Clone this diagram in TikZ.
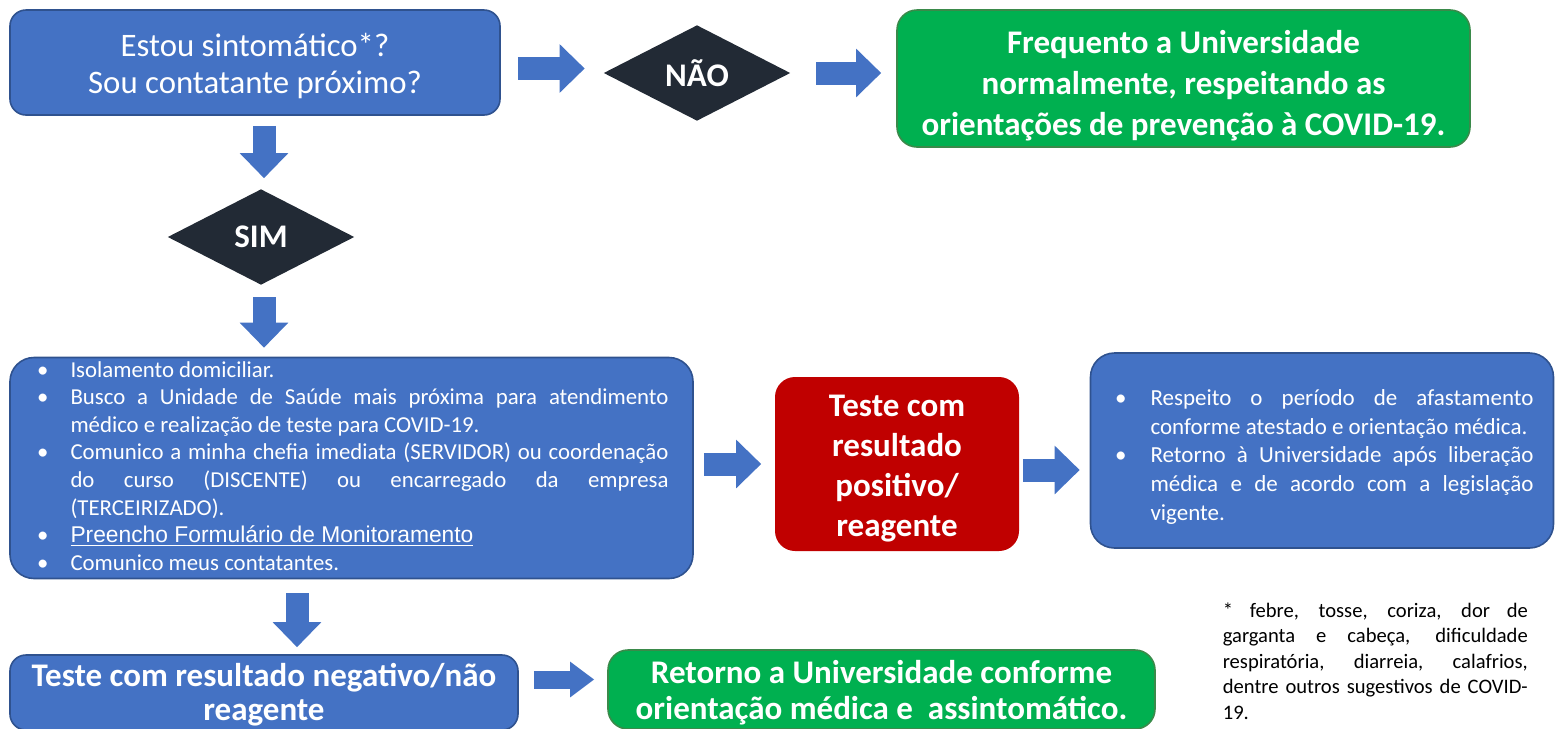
\documentclass[tikz,border=0pt]{standalone}
\usepackage{fontspec}
\setmainfont{Carlito}
\newfontfamily\linkfont{Liberation Sans}
\usepackage{enumitem}
\usetikzlibrary{shapes.geometric,arrows.meta}

\definecolor{azul}{HTML}{4472C4}
\definecolor{azulesc}{HTML}{2F528F}
\definecolor{verde}{HTML}{00B050}
\definecolor{verdeesc}{HTML}{3A8A4A}
\definecolor{vermelho}{HTML}{C00000}
\definecolor{escuro}{HTML}{222A35}

\begin{document}
\begin{tikzpicture}[x=0.5pt, y=-0.5pt, thick,
    caixa/.style = {draw=azulesc, fill=azul, text=white, rounded corners=8pt, align=center, inner sep=0pt},
    verdebox/.style = {draw=verdeesc, fill=verde, text=white, rounded corners=10pt, align=center, inner sep=0pt,
        font=\bfseries\fontsize{16.5}{20.5}\selectfont},
    losango/.style = {diamond, fill=escuro, text=white, inner sep=0pt, minimum width=93.5pt, minimum height=48pt,
        font=\bfseries\fontsize{16.5}{20}\selectfont},
    fat/.style = {draw=azul, line width=11.5pt, -{Triangle[length=12.5pt, width=23.5pt]}},
    fatp/.style = {draw=azul, line width=9pt, -{Triangle[length=12pt, width=17pt]}}]

    \useasboundingbox (0,0) rectangle (1555,729);

    \node[caixa, minimum width=245pt, minimum height=52.5pt, font=\fontsize{16.4}{18.5}\selectfont] (q) at (255,62.5)
        {\rule{0pt}{15pt}Estou sintomático*?\\Sou contatante próximo?};
    \node[losango] (nao) at (697,73) {NÃO};
    \node[verdebox, minimum width=286.5pt, minimum height=68.5pt] (freq) at (1183.5,78.5)
        {\rule{0pt}{19pt}Frequento a Universidade\\normalmente, respeitando as\\orientações de prevenção à COVID-19.};
    \node[losango] (sim) at (261,237) {SIM};

    \node[caixa, rounded corners=12pt, minimum width=341.5pt, minimum height=110pt, text width=317pt,
          inner xsep=12pt, align=justify, font=\fontsize{11.4}{13.8}\selectfont] (acoes) at (351.5,468) {%
        \vspace*{-4pt}
        \begin{itemize}[nosep, leftmargin=18pt, labelsep=11pt, label=\textbullet]
            \item Isolamento domiciliar.
            \item Busco a Unidade de Saúde mais próxima para atendimento\linebreak
                  médico e realização de teste para COVID-19.
            \item Comunico a minha chefia imediata (SERVIDOR) ou coordenação\linebreak
                  do curso (DISCENTE) ou encarregado da empresa\linebreak
                  (TERCEIRIZADO).
            \item {\linkfont\fontsize{11.4}{13.8}\selectfont\underline{Preencho Formulário de Monitoramento}}
            \item Comunico meus contatantes.
        \end{itemize}
        \vspace*{4pt}};

    \node[fill=vermelho, text=white, rounded corners=10pt, align=center, inner sep=0pt,
          minimum width=122pt, minimum height=87pt, font=\bfseries\fontsize{16.5}{20}\selectfont] (pos) at (897,464)
        {\rule{0pt}{15.5pt}Teste com\\resultado\\positivo/\\reagente};

    \node[caixa, rounded corners=12pt, minimum width=231.5pt, minimum height=97.5pt, text width=211.5pt,
          inner xsep=10pt, align=justify, font=\fontsize{11.5}{14.3}\selectfont] (afast) at (1322,450.5) {%
        \begin{itemize}[nosep, leftmargin=20pt, labelsep=12pt, label=\textbullet]
            \item Respeito o período de afastamento\linebreak
                  conforme atestado e orientação médica.
            \item Retorno à Universidade após liberação\linebreak
                  médica e de acordo com a legislação\linebreak
                  vigente.
        \end{itemize}};

    \node[caixa, minimum width=254pt, minimum height=37.5pt, font=\bfseries\fontsize{16.5}{17}\selectfont] (neg) at (264,692.5)
        {\rule{0pt}{14pt}Teste com resultado negativo/não\\reagente};
    \node[verdebox, minimum width=273.5pt, minimum height=39.5pt, font=\bfseries\fontsize{16.5}{18}\selectfont] (ret) at (881.5,689.5)
        {\rule{0pt}{15pt}Retorno a Universidade conforme\\orientação médica e\ \ assintomático.};

    \node[anchor=north west, inner sep=0pt, text width=152.5pt, align=justify,
          font=\fontsize{10.3}{12.75}\selectfont] (nota) at (1222,602)
        {*\ febre, tosse, coriza, dor de\linebreak
         garganta e cabeça, dificuldade\linebreak
         respiratória, diarreia, calafrios,\linebreak
         dentre outros sugestivos de COVID-\linebreak
         19.};

    % setas
    \draw[fat, shorten <=8.5pt, shorten >=9pt] ([yshift=-3pt]q.east) -- ([yshift=-3pt]q.east -| nao.west);
    \draw[fat, shorten <=12.5pt, shorten >=7.5pt] (nao.east) -- (nao.east -| freq.west);
    \draw[fat, shorten <=5pt, shorten >=5pt] ([xshift=1.5pt]q.south -| sim.north) -- ([xshift=1.5pt]sim.north);
    \draw[fat, shorten <=5.75pt, shorten >=4.5pt] ([xshift=1.5pt]sim.south) -- ([xshift=1.5pt]sim.south |- acoes.north);
    \draw[fat, shorten <=5pt, shorten >=6.5pt] (pos.west -| acoes.east) -- (pos.west);
    \draw[fat, shorten <=1.5pt, shorten >=5pt] ([yshift=-3pt]pos.east) -- ([yshift=-3pt]pos.east -| afast.west);
    \draw[fat, shorten <=7pt, shorten >=3.5pt] ([xshift=16.5pt]neg.north |- acoes.south) -- ([xshift=16.5pt]neg.north);
    \draw[fatp, shorten <=7.5pt, shorten >=6.5pt] ([yshift=5pt]ret.west -| neg.east) -- ([yshift=5pt]ret.west);

\end{tikzpicture}
\end{document}
